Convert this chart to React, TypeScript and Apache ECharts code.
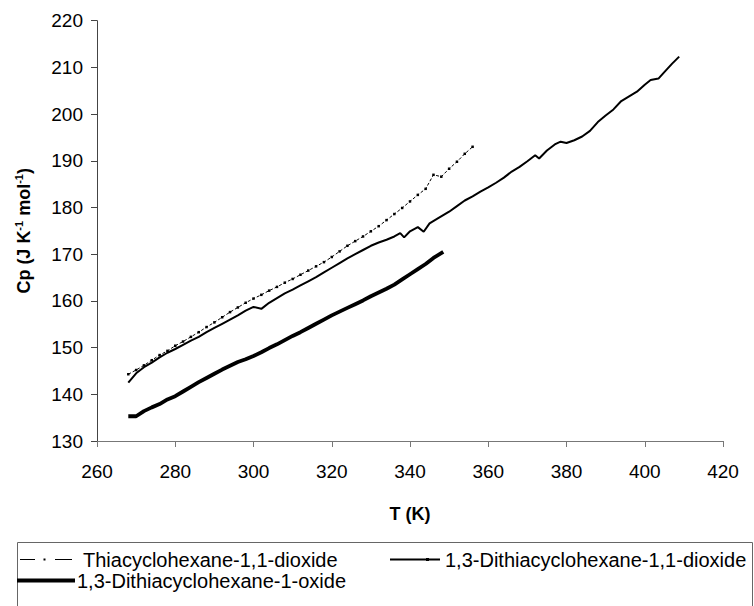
import React, { useEffect, useRef } from "react";
import * as echarts from "echarts";

const FONT = "'Liberation Sans', Arial, sans-serif";

const xTicks = { min: 260, max: 420, interval: 20 };
const yTicks = { min: 130, max: 220, interval: 10 };

const seriesNames = [
  "Thiacyclohexane-1,1-dioxide",
  "1,3-Dithiacyclohexane-1,1-dioxide",
  "1,3-Dithiacyclohexane-1-oxide",
];

const t1 = [268, 270, 272, 274, 276, 278, 280, 282, 284, 286, 288, 290, 292, 294, 296, 298, 300, 302, 304, 306, 308, 310, 312, 314, 316, 318, 320, 322, 324, 326, 328, 330, 332, 334, 336, 338, 340, 342, 344, 346, 348, 350, 352, 354, 356];
const cp1 = [144.3, 145.2, 146.2, 147.3, 148.4, 149.3, 150.4, 151.3, 152.3, 153.3, 154.4, 155.4, 156.5, 157.6, 158.6, 159.6, 160.5, 161.3, 162.2, 163.0, 163.9, 164.7, 165.6, 166.5, 167.4, 168.3, 169.4, 170.6, 171.8, 172.8, 173.8, 174.9, 176.0, 177.3, 178.6, 179.9, 181.3, 182.7, 184.0, 187.0, 186.6, 188.3, 189.8, 191.5, 193.0];

const t2 = [268, 270, 272, 274, 276, 278, 280, 282, 284, 286, 288, 290, 292, 294, 296, 298, 300, 302, 304, 306, 308, 310, 312, 314, 316, 318, 320, 322, 324, 326, 328, 330, 332, 334, 336, 337.5, 338.5, 340, 342, 343.5, 345, 347, 350, 352, 354, 356, 358, 360, 362, 364, 366, 368, 370, 372, 373, 375, 377, 378.5, 380, 382, 384, 386, 388, 390, 392, 394, 396, 398, 400, 401.5, 403.5, 405, 407, 408.8];
const cp2 = [142.5, 144.5, 145.8, 146.8, 147.9, 148.9, 149.7, 150.6, 151.5, 152.3, 153.3, 154.2, 155.1, 156.0, 156.9, 157.9, 158.7, 158.3, 159.6, 160.6, 161.6, 162.4, 163.3, 164.2, 165.1, 166.1, 167.1, 168.1, 169.1, 170.0, 170.9, 171.8, 172.5, 173.1, 173.8, 174.5, 173.6, 174.9, 175.8, 174.8, 176.6, 177.6, 179.1, 180.3, 181.5, 182.4, 183.4, 184.3, 185.3, 186.4, 187.7, 188.7, 189.9, 191.2, 190.5, 192.2, 193.5, 194.1, 193.8, 194.4, 195.2, 196.4, 198.3, 199.7, 201.0, 202.8, 203.8, 204.8, 206.3, 207.3, 207.6, 209.0, 210.8, 212.3];

const t3 = [268, 270, 272, 274, 276, 278, 280, 282, 284, 286, 288, 290, 292, 294, 296, 298, 300, 302, 304, 306, 308, 310, 312, 314, 316, 318, 320, 322, 324, 326, 328, 330, 332, 334, 336, 338, 340, 342, 344, 346, 348.5];
const cp3 = [135.3, 135.3, 136.4, 137.2, 137.9, 138.9, 139.6, 140.6, 141.6, 142.6, 143.5, 144.4, 145.3, 146.1, 146.9, 147.5, 148.2, 149.0, 149.9, 150.7, 151.6, 152.5, 153.3, 154.2, 155.1, 156.0, 156.9, 157.7, 158.5, 159.3, 160.1, 161.0, 161.8, 162.6, 163.5, 164.6, 165.7, 166.8, 167.9, 169.2, 170.5];

const zip = (xs: number[], ys: number[]) => xs.map((x, i) => [x, ys[i]]);

export default function App() {
  const ref = useRef<HTMLDivElement>(null);
  useEffect(() => {
    if (!ref.current) return;
    const chart = echarts.init(ref.current, undefined, { renderer: "svg" });
    const legendY1 = 559.5;
    const legendY2 = 580.5;
    const legendFont = 20;
    chart.setOption({
      animation: false,
      backgroundColor: "#fff",
      textStyle: { fontFamily: FONT },
      grid: { left: 97, right: 31, top: 20.7, bottom: 165, containLabel: false },
      xAxis: {
        type: "value",
        min: xTicks.min,
        max: xTicks.max,
        interval: xTicks.interval,
        name: "T (K)",
        nameLocation: "middle",
        nameGap: 64,
        nameTextStyle: { fontSize: 18, fontWeight: "bold", color: "#000", fontFamily: FONT },
        axisLine: { show: true, lineStyle: { color: "#777", width: 1 } },
        axisTick: { show: true, length: 6, lineStyle: { color: "#777" } },
        axisLabel: { fontSize: 19, color: "#000", margin: 21, fontFamily: FONT },
        splitLine: { show: false },
      },
      yAxis: {
        type: "value",
        min: yTicks.min,
        max: yTicks.max,
        interval: yTicks.interval,
        name: "{b|Cp (J K}{s|-1}{b| mol}{s|-1}{b|)}",
        nameLocation: "middle",
        nameRotate: 90,
        nameGap: 62,
        nameTextStyle: {
          rich: {
            b: { fontSize: 18, fontWeight: "bold", color: "#000", fontFamily: FONT, lineHeight: 22 },
            s: { fontSize: 11, fontWeight: "bold", color: "#000", fontFamily: FONT, lineHeight: 13, verticalAlign: "top" },
          },
        },
        axisLine: { show: true, lineStyle: { color: "#444", width: 1 } },
        axisTick: { show: true, length: 6, lineStyle: { color: "#444" } },
        axisLabel: { fontSize: 19, color: "#000", margin: 14, fontFamily: FONT },
        splitLine: { show: false },
      },
      series: [
        {
          name: seriesNames[0],
          type: "line",
          data: zip(t1, cp1),
          symbol: "rect",
          symbolSize: 2.5,
          showSymbol: true,
          itemStyle: { color: "#000" },
          lineStyle: { color: "#000", width: 1, type: [3, 2] },
        },
        {
          name: seriesNames[1],
          type: "line",
          data: zip(t2, cp2),
          showSymbol: false,
          lineStyle: { color: "#000", width: 2 },
        },
        {
          name: seriesNames[2],
          type: "line",
          data: zip(t3, cp3),
          showSymbol: false,
          lineStyle: { color: "#000", width: 3.8 },
        },
      ],
      graphic: [
        {
          type: "rect",
          shape: { x: 17.5, y: 542.5, width: 735, height: 80 },
          style: { fill: "none", stroke: "#666", lineWidth: 1 },
        },
        { type: "line", shape: { x1: 20, y1: legendY1, x2: 35, y2: legendY1 }, style: { stroke: "#000", lineWidth: 1 } },
        { type: "rect", shape: { x: 43.5, y: legendY1 - 1, width: 2, height: 2 }, style: { fill: "#000" } },
        { type: "line", shape: { x1: 55, y1: legendY1, x2: 72, y2: legendY1 }, style: { stroke: "#000", lineWidth: 1 } },
        { type: "text", x: 83, y: legendY1, style: { text: seriesNames[0], fontSize: legendFont, fontFamily: FONT, fill: "#000", verticalAlign: "middle", align: "left" } },
        { type: "line", shape: { x1: 390, y1: legendY1, x2: 440, y2: legendY1 }, style: { stroke: "#000", lineWidth: 2 } },
        { type: "rect", shape: { x: 426, y: legendY1 - 1.5, width: 3, height: 3 }, style: { fill: "#000" } },
        { type: "text", x: 445, y: legendY1, style: { text: seriesNames[1], fontSize: legendFont, fontFamily: FONT, fill: "#000", verticalAlign: "middle", align: "left" } },
        { type: "line", shape: { x1: 17, y1: legendY2, x2: 75, y2: legendY2 }, style: { stroke: "#000", lineWidth: 3.8 } },
        { type: "text", x: 77, y: legendY2, style: { text: seriesNames[2], fontSize: legendFont, fontFamily: FONT, fill: "#000", verticalAlign: "middle", align: "left" } },
      ],
    });
    return () => chart.dispose();
  }, []);
  return <div ref={ref} style={{ position: "absolute", left: 0, top: 0, width: 754, height: 606 }} />;
}
